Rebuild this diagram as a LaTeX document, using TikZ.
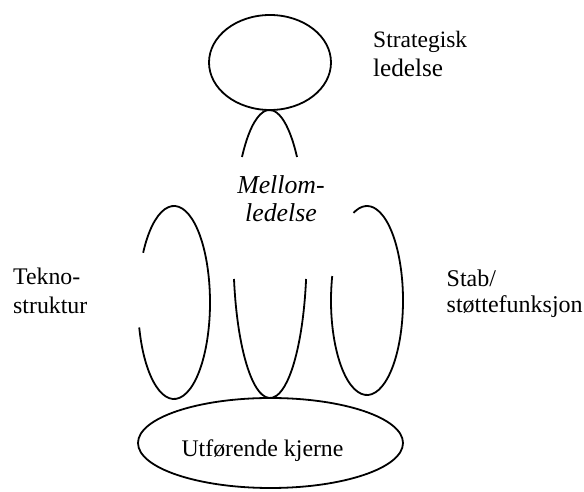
\documentclass[tikz,border=0pt]{standalone}
\usepackage{fontspec}
\setmainfont{Liberation Serif}
\usetikzlibrary{positioning}

\begin{document}
\begin{tikzpicture}[x=1pt,y=1pt,
    part/.style={black, line width=1.8pt},
    partlabel/.style={inner sep=0pt, align=left, font=\fontsize{23.8}{28.3}\selectfont}]
\useasboundingbox (0,0) rectangle (584,492);

% Strategic apex
\draw[part] (270,429.5) ellipse [x radius=61, y radius=47.5];

% Middle line, upper and lower part
\draw[part] (297,335) arc[start angle=40, end angle=140, x radius=35.9, y radius=131.6];
\draw[part] (234,213) arc[start angle=190, end angle=350, x radius=36.6, y radius=144];

% Side loops (technostructure left, support staff right), open on the inner side
\foreach \cx/\cy/\ry/\from/\to in {174/189.5/96.5/195/509, 367/191.5/94.5/165/472} {
    \draw[part] (\cx,\cy) ++(\from:36 and \ry) arc[start angle=\from, end angle=\to, x radius=36, y radius=\ry];
}

% Operating core
\draw[part] (270.5,49) ellipse [x radius=132.5, y radius=45];

% Labels (base anchor sits on the last line)
\node[partlabel, anchor=base west, font=\fontsize{23.5}{29}\selectfont] (apex) at (373,415.3)
    {Strategisk\\{\fontsize{25.2}{29}\selectfont ledelse}};
\node[partlabel, anchor=base, align=center, font=\fontsize{25.8}{28.4}\selectfont\itshape] (middle) at (281,270.3) {Mellom-\\ledelse};
\node[partlabel, anchor=base west] (tekno) at (13,178.7) {Tekno-\\struktur};
\node[partlabel, anchor=base west, font=\fontsize{24}{26}\selectfont] (stab) at (446.5,179.3) {Stab/\\støttefunksjon};
\node[partlabel, anchor=base] (core) at (262.5,35.3) {Utførende kjerne};

\end{tikzpicture}
\end{document}
